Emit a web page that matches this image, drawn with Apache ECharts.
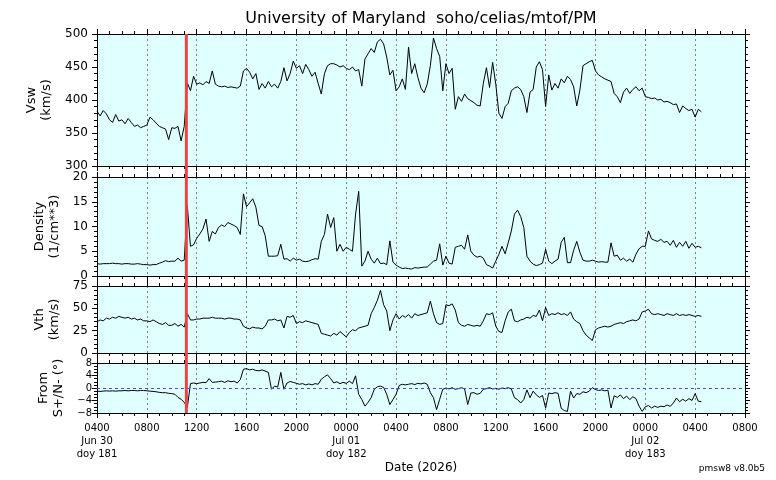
<!DOCTYPE html>
<html><head><meta charset="utf-8">
<script src="https://cdn.jsdelivr.net/npm/echarts@6/dist/echarts.min.js"></script>
<style>html,body{margin:0;padding:0;background:#fff}#c{width:776px;height:480px}</style>
</head><body><div id="c"></div>
<script>
const chartTitle = 'University of Maryland  soho/celias/mtof/PM';
const footerText = 'pmsw8 v8.0b5';
const xAxisTitle = 'Date (2026)';
// hours after 2026-06-30 04:00 UT
const cadenceHours = 0.25;
const eventHour = 7.17;
const xTickLabels = ['0400\nJun 30\ndoy 181','0800','1200','1600','2000','0000\nJul 01\ndoy 182','0400','0800','1200','1600','2000','0000\nJul 02\ndoy 183','0400','0800'];
const panelNames = ['Vsw\n(km/s)', 'Density\n(1/cm**3)', 'Vth\n(km/s)', 'From\nS+/N- (\u00b0)'];

const vsw = [
383,376,384,379, 370,366,378,368, 370,364,372,366, 360,362,358,360,
362,374,370,365, 360,358,356,340, 358,357,360,338, 360,426,414,436,
424,426,423,428, 425,444,424,421, 420,421,419,420, 419,418,421,444,
448,442,432,440, 416,425,418,428, 420,424,418,428, 449,429,440,459,
448,452,440,454, 446,436,442,425, 409,440,452,455, 455,453,450,452,
448,446,450,444, 446,421,462,470, 478,472,488,492, 485,465,438,445,
414,420,432,416, 480,440,455,434, 418,411,424,452, 494,478,466,414,
455,440,448,386, 405,398,409,402, 399,396,392,391, 425,449,419,457,
424,380,372,390, 395,414,418,420, 416,405,381,412, 416,450,458,446,
390,438,415,425, 418,432,426,436, 431,420,391,415, 452,455,458,460,
444,438,435,432, 430,428,410,405, 396,412,418,410, 416,420,414,418,
405,404,402,403, 400,401,397,398, 396,393,394,381, 391,387,384,386,
374,386,382];

const density = [
2.5,2.4,2.5,2.5, 2.5,2.6,2.5,2.5, 2.4,2.5,2.5,2.4, 2.4,2.5,2.4,2.3,
2.3,2.2,2.3,2.3, 2.6,2.8,3.1,2.9, 3.0,3.0,3.6,3.0, 3.2,14.2,6.0,6.3,
7.6,8.5,9.5,11.5, 7.0,9.0,8.5,9.8, 10.3,10.0,10.8,10.5, 10.2,9.8,8.4,16.6,
14.0,14.8,15.6,13.9, 10.2,10.0,8.1,4.0, 4.0,4.0,4.1,6.4, 3.4,3.5,3.0,3.6,
3.2,3.4,3.0,2.9, 3.0,3.3,3.5,3.4, 7.0,8.4,12.5,9.8, 11.8,5.0,6.4,5.0,
5.8,5.4,5.0,12.5, 17.1,2.0,3.0,5.0, 3.4,2.6,3.6,2.5, 2.6,2.3,7.1,2.8,
2.2,1.8,1.5,1.6, 1.5,1.4,1.7,1.6, 1.7,1.8,1.8,2.4, 3.0,3.2,6.5,2.2,
4.0,2.6,2.4,5.8, 6.0,6.2,5.4,8.3, 5.0,4.2,3.8,4.0, 3.6,2.3,2.0,1.6,
3.0,4.4,6.0,4.5, 6.7,9.1,12.5,13.3, 12.0,9.8,4.0,3.0, 2.4,2.1,2.3,2.6,
5.4,3.0,2.5,3.0, 3.4,6.8,7.8,2.7, 2.7,5.2,7.0,4.8, 3.2,3.0,3.0,3.2,
3.0,2.8,2.9,2.8, 2.8,6.7,4.0,4.2, 3.2,3.6,3.0,3.4, 2.8,4.4,5.5,6.0,
6.0,9.1,7.5,7.2, 7.0,7.4,6.8,7.0, 6.2,7.2,5.8,6.8, 6.0,7.0,5.6,6.6,
5.8,6.0,5.7];

const vth = [
35,37,36,39, 38,40,39,41, 40,39,40,38, 39,37,38,36,
36,35,37,35, 33,32,34,31, 31,33,30,32, 29,44,37,37,
38,38,39,39, 39,40,39,39, 39,38,39,39, 38,38,37,30,
28,27,29,28, 28,27,30,37, 37,38,36,37, 28,41,40,42,
33,35,34,36, 35,34,33,32, 22,21,20,19, 22,20,24,21,
18,23,26,25, 28,29,30,31, 44,51,59,70, 54,47,25,37,
44,38,42,40, 43,39,44,42, 43,44,45,58, 44,34,32,33,
54,53,55,48, 34,31,30,32, 31,30,31,30, 36,44,43,45,
30,24,23,36, 46,49,36,35, 37,38,40,39, 42,41,48,36,
51,42,44,43, 45,43,44,42, 46,38,35,33, 25,20,17,14,
26,28,29,30, 29,30,32,33, 34,33,35,36, 37,36,38,46,
47,49,44,43, 44,43,42,44, 43,42,44,42, 43,42,43,42,
41,42,41];

const angle = [
-1.0,-1.1,-1.0,-0.9, -1.0,-0.9,-1.0,-0.9, -0.9,-0.8,-0.9,-0.8, -0.8,-0.9,-0.8,-0.8,
-0.9,-1.0,-1.1,-1.2, -1.4,-1.5,-1.5,-1.7, -1.8,-2.0,-3.0,-3.6, -4.6,-6.2,1.4,1.6,
1.4,1.6,1.8,1.7, 3.0,1.8,1.9,2.0, 2.2,1.8,2.3,2.0, 2.2,1.6,2.7,6.0,
6.2,5.8,6.0,5.6, 5.5,5.8,5.4,5.0, -0.4,0.6,0.3,5.0, -0.4,1.6,2.1,1.8,
1.5,1.2,1.4,1.0, 1.3,1.0,1.4,1.2, 2.8,3.6,4.2,3.0, 1.6,2.0,1.4,1.8,
1.5,2.2,1.4,3.9, -2.0,-3.7,-5.8,-4.6, -3.1,-0.4,0.4,0.6, 0.2,-2.0,-5.3,-3.7,
-2.0,0.8,1.2,1.0, 1.2,1.4,1.1,1.5, 1.3,1.6,1.2,-1.5, -3.1,-6.9,-3.6,-0.4,
0.0,-0.3,0.1,-0.4, -0.2,0.1,-0.3,-5.3, -1.6,-1.5,-2.0,-1.7, -0.4,-0.2,0.1,-0.3,
-0.1,-0.4,0.0,-0.2, 0.1,-0.3,-3.1,-3.7, -4.8,-3.7,-0.6,-3.1, -1.0,-2.2,-3.0,-2.4,
-6.4,-1.6,-1.8,-1.5, -1.7,-6.5,-7.2,-7.5, -1.0,-3.2,-1.8,-2.0, -1.2,-1.5,-1.0,0.1,
-0.5,-0.8,-0.6,-0.9, -0.7,-6.4,-2.5,-3.0, -2.2,-3.4,-2.6,-3.7, -2.8,-3.4,-5.8,-7.5,
-6.0,-5.6,-6.4,-5.8, -6.2,-5.8,-6.0,-5.4, -5.9,-4.8,-3.2,-4.4, -3.6,-4.2,-3.4,-4.0,
-1.8,-4.2,-4.4];

const yMins = [300, 0, 0, -8];
const yMaxs = [500, 20, 75, 8];
const yIntervals = [50, 5, 25, 4];
const yMinorSplits = [5, 5, 5, 4];
const seriesValues = [vsw, density, vth, angle];

// layout
const FONT = 'DejaVu Sans';
const plotLeft = 97, plotWidth = 648;
const gridTops = [34, 177, 286, 363];
const gridHeights = [132, 99, 67, 50];
const nameGaps = [35, 29, 29, 27];
const labelSizes = [12, 12, 12, 10];
const labelMargins = [9, 9, 9, 5];

const chart = echarts.init(document.getElementById('c'), null, {renderer: 'canvas'});
const grids = [], xAxes = [], yAxes = [], series = [];
const black = '#000';
for (let i = 0; i < 4; i++) {
  grids.push({left: plotLeft, width: plotWidth, top: gridTops[i], height: gridHeights[i],
    show: true, backgroundColor: '#e0ffff', borderWidth: 0});
  const last = i === 3;
  xAxes.push({gridIndex: i, type: 'value', position: 'bottom', min: 0, max: 52, interval: 4,
    axisLine: {show: true, onZero: false, lineStyle: {color: black, width: 1}},
    axisTick: {show: true, inside: false, length: 5, lineStyle: {color: black}},
    minorTick: {show: true, splitNumber: 4, length: 3, lineStyle: {color: black}},
    splitLine: {show: true, lineStyle: {color: '#808080', type: [2, 3], width: 1}},
    axisLabel: {show: last, margin: 9, fontFamily: FONT, fontSize: 10, color: black, lineHeight: 13,
      formatter: v => xTickLabels[Math.round(v / 4)]},
    name: last ? xAxisTitle : '', nameLocation: 'middle', nameGap: 49,
    nameTextStyle: {fontFamily: FONT, fontSize: 12, color: black}});
  xAxes.push({gridIndex: i, type: 'value', position: 'top', min: 0, max: 52, interval: 4,
    axisLine: {show: true, onZero: false, lineStyle: {color: black, width: 1}},
    axisTick: {show: true, inside: false, length: 5, lineStyle: {color: black}},
    minorTick: {show: true, splitNumber: 4, length: 3, lineStyle: {color: black}},
    splitLine: {show: false}, axisLabel: {show: false}});
  yAxes.push({gridIndex: i, type: 'value', position: 'left', min: yMins[i], max: yMaxs[i], interval: yIntervals[i],
    axisLine: {show: true, onZero: false, lineStyle: {color: black, width: 1}},
    axisTick: {show: true, inside: false, length: 5, lineStyle: {color: black}},
    minorTick: {show: true, splitNumber: yMinorSplits[i], length: 3, lineStyle: {color: black}},
    splitLine: {show: false},
    axisLabel: {show: true, margin: labelMargins[i], fontFamily: FONT, fontSize: labelSizes[i], color: black,
      formatter: v => String(v).replace('-', '\u2212')},
    name: panelNames[i], nameLocation: 'middle', nameGap: nameGaps[i], nameRotate: 90,
    nameTextStyle: {fontFamily: FONT, fontSize: 13, color: black, lineHeight: 15}});
  yAxes.push({gridIndex: i, type: 'value', position: 'right', min: yMins[i], max: yMaxs[i], interval: yIntervals[i],
    axisLine: {show: true, onZero: false, lineStyle: {color: black, width: 1}},
    axisTick: {show: true, inside: false, length: 5, lineStyle: {color: black}},
    minorTick: {show: true, splitNumber: yMinorSplits[i], length: 3, lineStyle: {color: black}},
    splitLine: {show: false}, axisLabel: {show: false}});
  const s = {type: 'line', xAxisIndex: 2 * i, yAxisIndex: 2 * i, showSymbol: false, symbol: 'none',
    animation: false, clip: true, z: 3,
    lineStyle: {color: '#000', width: 1},
    data: seriesValues[i].map((v, k) => [k * cadenceHours, v])};
  if (i === 3) {
    s.markLine = {silent: true, symbol: ['none', 'none'], label: {show: false}, animation: false,
      lineStyle: {color: '#4646ff', type: [3, 3], width: 1}, data: [{yAxis: 0}]};
  }
  series.push(s);
}

chart.setOption({
  animation: false,
  backgroundColor: '#fff',
  grid: grids, xAxis: xAxes, yAxis: yAxes, series: series,
  title: [{text: footerText, right: 6, top: 459, textStyle: {fontFamily: FONT, fontSize: 9, fontWeight: 'normal', color: black}}]
});

const ex = chart.convertToPixel({xAxisIndex: 0}, eventHour);
const cx = plotLeft + plotWidth / 2;
chart.setOption({
  graphic: [
    {type: 'text', x: cx, y: 19, z: 100,
     style: {text: chartTitle, textAlign: 'center', textVerticalAlign: 'middle', font: '16px "DejaVu Sans"', fill: black}},
    {type: 'line', z: 100, shape: {x1: ex, y1: gridTops[0], x2: ex, y2: gridTops[3] + gridHeights[3]},
     style: {stroke: '#e84545', lineWidth: 3}}
  ]
});
</script></body></html>
